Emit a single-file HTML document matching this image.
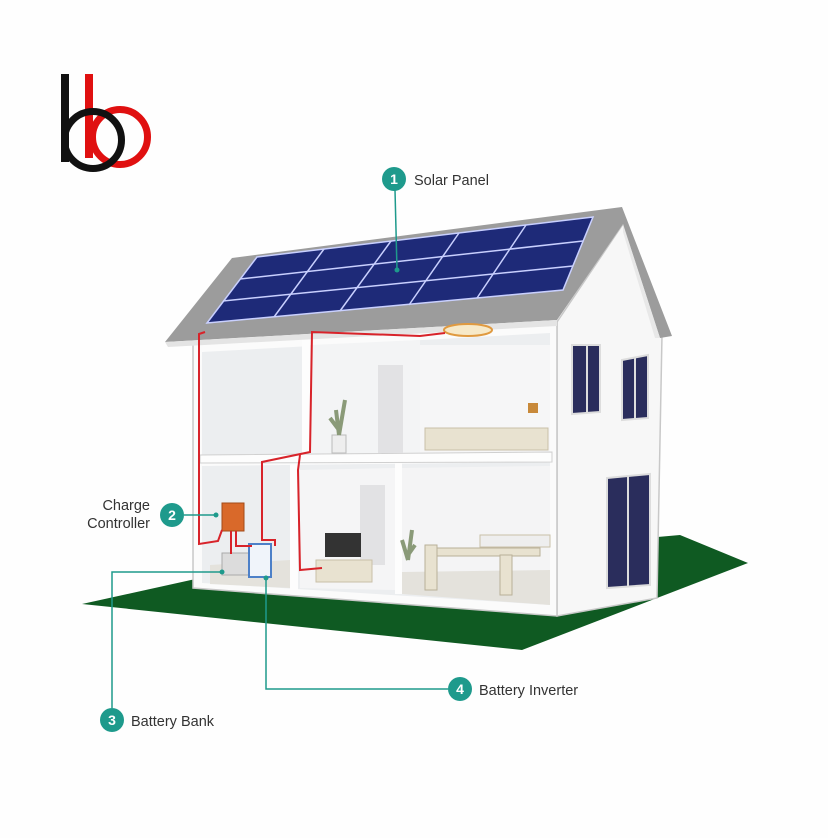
<!DOCTYPE html>
<html><head><meta charset="utf-8"><style>
html,body{margin:0;padding:0;background:#fff;}
svg{display:block}
text{font-family:"Liberation Sans",sans-serif;}
</style></head><body>
<svg width="828" height="838" viewBox="0 0 828 838" xmlns="http://www.w3.org/2000/svg">
<rect width="828" height="838" fill="#fefefe"/>
<!-- logo -->
<circle cx="120" cy="137" r="27.5" fill="none" stroke="#e01010" stroke-width="7"/>
<rect x="85" y="74" width="8" height="84" fill="#e01010"/>
<rect x="61" y="74" width="8" height="88" fill="#111"/>
<circle cx="93" cy="140" r="28.5" fill="none" stroke="#111" stroke-width="7"/>
<!-- ground -->
<polygon points="82,604 200,578 680,535 748,563 522,650" fill="#0f5a22"/>
<!-- side wall -->
<polygon points="557,322 623,224 662,335 657,598 557,616" fill="#f7f7f7" stroke="#c8c8c8" stroke-width="1.5"/>
<!-- front section -->
<polygon points="193,343 557,322 557,616 193,588" fill="#fbfbfb" stroke="#c8c8c8" stroke-width="1.5"/>
<!-- interior -->
<polygon points="202,352 550,333 550,455 202,460" fill="#eceef0"/>
<polygon points="202,466 550,462 550,605 202,583" fill="#eceef0"/>
<polygon points="310,345 420,340 420,455 310,457" fill="#f3f4f5"/>
<polygon points="420,345 550,345 550,455 420,455" fill="#f6f6f7"/>
<polygon points="300,470 395,468 395,590 300,588" fill="#f5f5f6"/>
<polygon points="400,468 550,466 550,600 400,594" fill="#f4f4f5"/>
<rect x="302" y="330" width="8" height="127" fill="#fdfdfd"/>
<rect x="290" y="462" width="8" height="128" fill="#fdfdfd"/>
<rect x="395" y="462" width="7" height="132" fill="#fdfdfd"/>
<polygon points="200,455 552,452 552,462 200,463" fill="#fdfdfd" stroke="#d0d0d0" stroke-width="1"/>
<polygon points="210,565 290,560 290,588 210,584" fill="#e4e2dc"/>
<polygon points="402,572 550,570 550,605 402,594" fill="#e4e2dc"/>
<rect x="378" y="365" width="25" height="88" fill="#e2e2e4"/>
<rect x="360" y="485" width="25" height="80" fill="#e2e2e4"/>
<rect x="425" y="428" width="123" height="22" fill="#e8e2d0" stroke="#c9c0a8"/>
<rect x="528" y="403" width="10" height="10" fill="#c8893a"/>
<rect x="332" y="435" width="14" height="18" fill="#eee" stroke="#bbb"/>
<path d="M339 435 L336 410 M339 435 L345 400 M339 430 L330 418" stroke="#8a9a78" stroke-width="4"/>
<rect x="325" y="533" width="36" height="24" fill="#333"/>
<rect x="316" y="560" width="56" height="22" fill="#e8e2d0" stroke="#c9c0a8"/>
<path d="M408 560 L402 540 M408 560 L412 530 M408 555 L415 545" stroke="#8a9a78" stroke-width="4"/>
<rect x="430" y="548" width="110" height="8" fill="#e8e2d0" stroke="#b9b098"/>
<rect x="425" y="545" width="12" height="45" fill="#e8e2d0" stroke="#b9b098"/>
<rect x="500" y="555" width="12" height="40" fill="#e8e2d0" stroke="#b9b098"/>
<rect x="480" y="535" width="70" height="12" fill="#eee" stroke="#c9c0a8"/>
<rect x="222" y="503" width="22" height="28" fill="#d9692a" stroke="#a24a18"/>
<rect x="222" y="553" width="30" height="22" fill="#dcdcdc" stroke="#aaa"/>
<rect x="249" y="544" width="22" height="33" fill="#f0f4fa" stroke="#4d80c8" stroke-width="2"/>
<!-- roof -->
<polygon points="165,342 232,258 622,207 672,336 660,338 623,224 557,320 200,340" fill="#9c9c9c"/>
<polygon points="623,224 660,338 655,338 623,232" fill="#e8e8e8"/>
<polygon points="165,342 557,320 557,326 168,347" fill="#e4e4e4"/>
<g>
<polygon points="207,323 257,257 593,217 563,290" fill="#1e2a78" stroke="#c9d0ff" stroke-width="1.5"/>
<line x1="223" y1="301" x2="573" y2="266" stroke="#c9d0ff" stroke-width="1.5"/>
<line x1="240" y1="279" x2="583" y2="241" stroke="#c9d0ff" stroke-width="1.5"/>
<line x1="274" y1="317" x2="324" y2="249" stroke="#c9d0ff" stroke-width="1.5"/>
<line x1="340" y1="311" x2="391" y2="241" stroke="#c9d0ff" stroke-width="1.5"/>
<line x1="409" y1="305" x2="459" y2="233" stroke="#c9d0ff" stroke-width="1.5"/>
<line x1="477" y1="298" x2="526" y2="225" stroke="#c9d0ff" stroke-width="1.5"/>
</g>
<polygon points="572,345 600,345 600,412 572,414" fill="#2a2d5c" stroke="#ddd" stroke-width="2"/>
<polygon points="622,360 648,355 648,418 622,420" fill="#2a2d5c" stroke="#ddd" stroke-width="2"/>
<polygon points="607,478 650,474 650,585 607,588" fill="#2a2d5c" stroke="#ddd" stroke-width="2"/>
<line x1="587" y1="346" x2="587" y2="413" stroke="#ddd" stroke-width="2"/>
<line x1="635" y1="358" x2="635" y2="419" stroke="#ddd" stroke-width="2"/>
<line x1="628" y1="476" x2="628" y2="586" stroke="#ddd" stroke-width="2"/>
<ellipse cx="468" cy="330" rx="24" ry="6" fill="#f7e9c8" stroke="#e09a40" stroke-width="2"/>
<g fill="none" stroke="#d8232a" stroke-width="2">
<path d="M205 332 L199 334 L199 544 L218 541 L222 530"/>
<path d="M445 333 L420 336 L312 332 L310 452 L262 462 L262 540 L275 540 L275 546"/>
<path d="M300 455 L298 470 L300 570 L322 568"/>
<path d="M231 531 L231 554 M236 531 L236 546 L252 546"/>
</g>
<g stroke="#1e9a8c" stroke-width="1.5" fill="none">
<line x1="395" y1="190" x2="397" y2="270"/>
<line x1="184" y1="515" x2="216" y2="515"/>
<polyline points="112,708 112,572 222,572"/>
<polyline points="448,689 266,689 266,578"/>
</g>
<g fill="#1e9a8c"><circle cx="397" cy="270" r="2.5"/><circle cx="216" cy="515" r="2.5"/><circle cx="222" cy="572" r="2.5"/><circle cx="266" cy="578" r="2.5"/></g>
<g fill="#1e9a8c">
<circle cx="394" cy="179" r="12"/><circle cx="172" cy="515" r="12"/><circle cx="112" cy="720" r="12"/><circle cx="460" cy="689" r="12"/>
</g>
<g fill="#fff" font-size="14" font-weight="bold" text-anchor="middle">
<text x="394" y="184">1</text><text x="172" y="520">2</text><text x="112" y="725">3</text><text x="460" y="694">4</text>
</g>
<g fill="#333" font-size="14.5">
<text x="414" y="185">Solar Panel</text>
<text x="150" y="510" text-anchor="end">Charge</text>
<text x="150" y="528" text-anchor="end">Controller</text>
<text x="131" y="726">Battery Bank</text>
<text x="479" y="695">Battery Inverter</text>
</g>
</svg>
</body></html>
